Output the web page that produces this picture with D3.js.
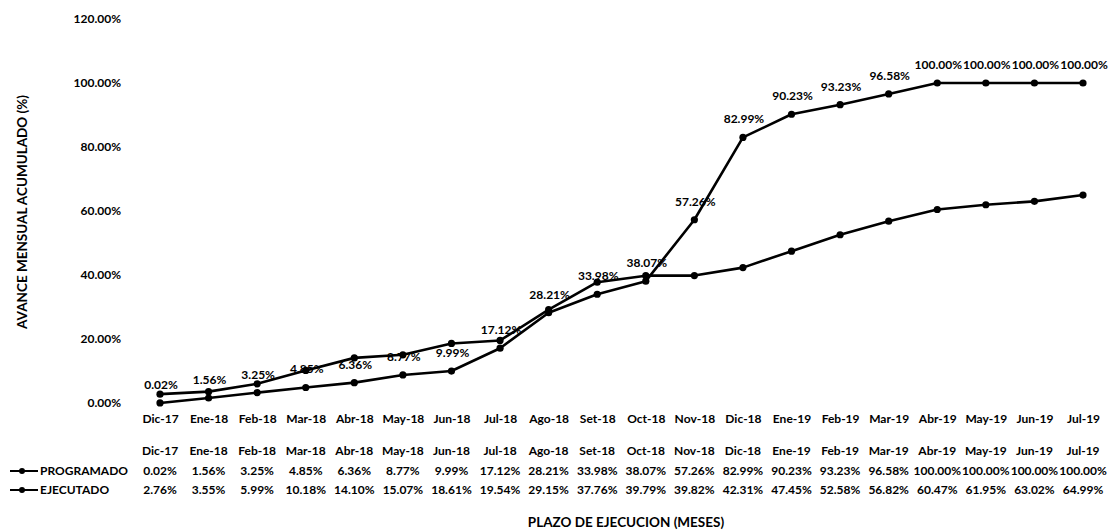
<!DOCTYPE html>
<html>
<head>
<meta charset="utf-8">
<script src="https://cdn.jsdelivr.net/npm/d3@7"></script>
<style>
  body { margin: 0; background: #fff; }
  text { font-family: Lato, "Open Sans", sans-serif; font-weight: bold; fill: #000; }
</style>
</head>
<body>
<svg id="chart" width="1108" height="531"></svg>
<script>
// months shown on the category axis and in the data table
const months = ['Dic-17', 'Ene-18', 'Feb-18', 'Mar-18', 'Abr-18', 'May-18', 'Jun-18', 'Jul-18',
  'Ago-18', 'Set-18', 'Oct-18', 'Nov-18', 'Dic-18', 'Ene-19', 'Feb-19', 'Mar-19',
  'Abr-19', 'May-19', 'Jun-19', 'Jul-19'];

// cumulative progress, in percent
const programado = [0.02, 1.56, 3.25, 4.85, 6.36, 8.77, 9.99, 17.12, 28.21, 33.98, 38.07, 57.26,
  82.99, 90.23, 93.23, 96.58, 100.00, 100.00, 100.00, 100.00];
const ejecutado = [2.76, 3.55, 5.99, 10.18, 14.10, 15.07, 18.61, 19.54, 29.15, 37.76, 39.79, 39.82,
  42.31, 47.45, 52.58, 56.82, 60.47, 61.95, 63.02, 64.99];

const yTicks = [0, 20, 40, 60, 80, 100, 120];

const svg = d3.select('#chart');

// plot area
const x = d3.scalePoint().domain(months).range([160, 1083]);
const y = d3.scaleLinear().domain([0, 120]).range([403, 19]);

const fmt = v => v.toFixed(2) + '%';

// y axis (labels only, no line)
const yAxis = svg.append('g')
    .attr('transform', 'translate(121,0)')
    .call(d3.axisLeft(y).tickValues(yTicks).tickFormat(fmt).tickSize(0).tickPadding(0));
yAxis.select('.domain').remove();
yAxis.selectAll('text').style('font-size', '12px').style('font-family', null);

// x axis (labels only)
const xAxis = svg.append('g')
    .attr('transform', 'translate(0,414)')
    .call(d3.axisBottom(x).tickSize(0).tickPadding(0));
xAxis.select('.domain').remove();
xAxis.selectAll('text').style('font-size', '12px').style('font-family', null);

// axis titles
svg.append('text')
    .attr('transform', 'translate(27,212) rotate(-90)')
    .attr('text-anchor', 'middle')
    .style('font-size', '13.5px')
    .text('AVANCE MENSUAL ACUMULADO (%)');

svg.append('text')
    .attr('x', 626)
    .attr('y', 527)
    .attr('text-anchor', 'middle')
    .style('font-size', '13.5px')
    .text('PLAZO DE EJECUCION (MESES)');

// lines
const line = d3.line()
    .x((d, i) => x(months[i]))
    .y(d => y(d));

[ejecutado, programado].forEach(series => {
  svg.append('path')
      .datum(series)
      .attr('d', line)
      .attr('fill', 'none')
      .attr('stroke', '#000')
      .attr('stroke-width', 2.6)
      .attr('stroke-linejoin', 'round');

  svg.selectAll(null)
      .data(series)
      .enter().append('circle')
      .attr('cx', (d, i) => x(months[i]))
      .attr('cy', d => y(d))
      .attr('r', 3.6)
      .attr('fill', '#000');
});

// data labels of the programado series
svg.selectAll('.lbl')
    .data(programado)
    .enter().append('text')
    .attr('class', 'lbl')
    .attr('x', (d, i) => x(months[i]) + 1)
    .attr('y', d => y(d) - 14)
    .attr('text-anchor', 'middle')
    .style('font-size', '12px')
    .text(fmt);

// data table under the chart
const table = svg.append('g');
table.selectAll('.hdr')
    .data(months)
    .enter().append('text')
    .attr('x', d => x(d))
    .attr('y', 455)
    .attr('text-anchor', 'middle')
    .style('font-size', '12px')
    .text(d => d);

const rows = [
  { name: 'PROGRAMADO', values: programado, y: 475 },
  { name: 'EJECUTADO', values: ejecutado, y: 494 }
];

rows.forEach(row => {
  table.append('line')
      .attr('x1', 10).attr('x2', 38)
      .attr('y1', row.y - 4).attr('y2', row.y - 4)
      .attr('stroke', '#000').attr('stroke-width', 2);
  table.append('circle')
      .attr('cx', 22).attr('cy', row.y - 4).attr('r', 3)
      .attr('fill', '#000');
  table.append('text')
      .attr('x', 40)
      .attr('y', row.y)
      .style('font-size', '12px')
      .text(row.name);
  table.selectAll(null)
      .data(row.values)
      .enter().append('text')
      .attr('x', (d, i) => x(months[i]))
      .attr('y', row.y)
      .attr('text-anchor', 'middle')
      .style('font-size', '12px')
      .text(fmt);
});
</script>
</body>
</html>
